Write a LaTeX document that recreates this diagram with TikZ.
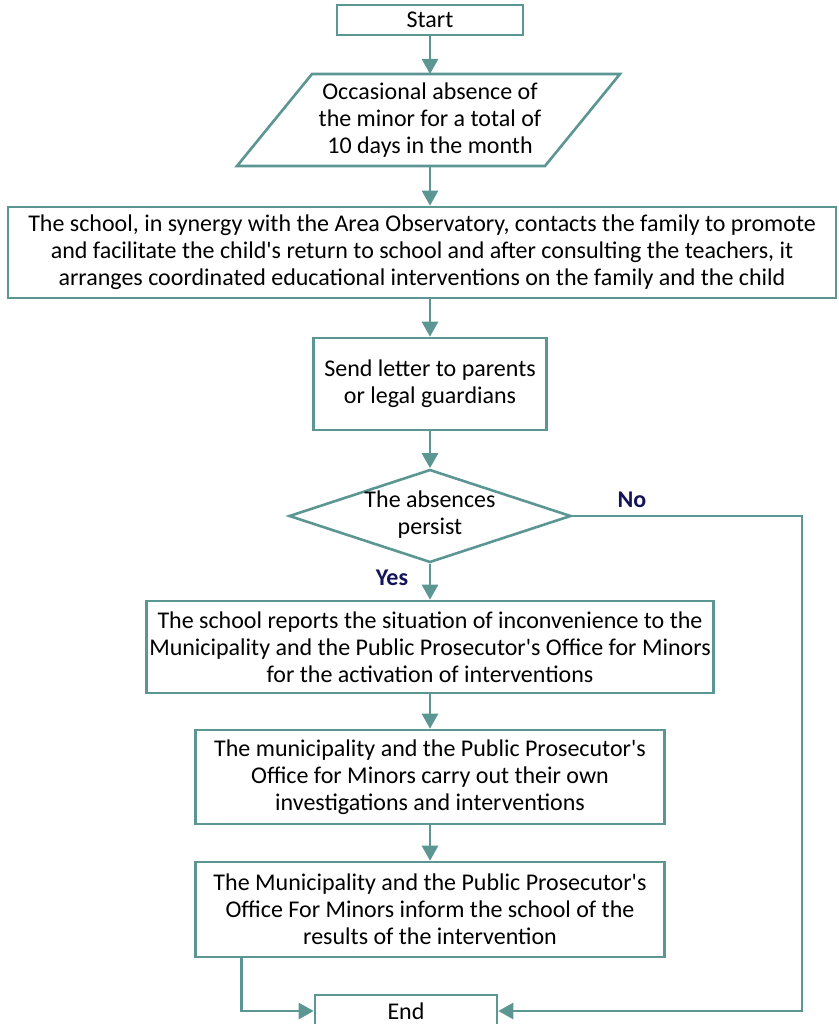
\documentclass[tikz,border=0pt]{standalone}
\usepackage{fontspec}
\setmainfont{Carlito}
\usetikzlibrary{arrows.meta,shapes.geometric}
\definecolor{edge}{HTML}{5B9693}
\definecolor{lab}{HTML}{14145A}
\newcommand{\qt}{\textquotesingle}
\begin{document}
\begin{tikzpicture}[x=1pt,y=-1pt,
  font=\fontsize{24}{27}\selectfont,
  box/.style={draw=edge, line width=2.6pt, fill=white, align=center, inner sep=0pt},
  plain/.style={align=center, inner sep=0pt},
  link/.style={draw=edge, line width=2.6pt, -{Triangle[length=15pt,width=16pt]}},
  answer/.style={text=lab, font=\fontsize{24}{27}\selectfont\bfseries, inner sep=0pt}]
\useasboundingbox (0,0) rectangle (838,1024);

% start
\node[box, minimum width=186, minimum height=30] (start) at (430,20) {Start};

% input: parallelogram outline with its text
\draw[edge, line width=2.6pt, fill=white, line join=miter]
  (312,74) -- (620,74) -- (545,166) -- (237,166) -- cycle;
\node[plain, minimum height=92] (absence) at (430,120)
  {Occasional absence of\\the minor for a total of\\10 days in the month};

% process steps
\node[box, minimum width=828, minimum height=91] (contact) at (422,252.5)
  {The school, in synergy with the Area Observatory, contacts the family to promote\\
   and facilitate the child\qt s return to school and after consulting the teachers, it\\
   arranges coordinated educational interventions on the family and the child};
\node[box, minimum width=233, minimum height=92] (letter) at (430,384)
  {Send letter to parents\\or legal guardians};

% decision
\node[draw=edge, line width=2.6pt, fill=white, shape=diamond, inner sep=0pt,
      minimum width=282, minimum height=93] (check) at (430,516) {};
\node[plain] (checktext) at (430,515) {The absences\\persist};

\node[box, minimum width=567, minimum height=92] (report) at (430,647)
  {The school reports the situation of inconvenience to the\\
   Municipality and the Public Prosecutor\qt s Office for Minors\\
   for the activation of interventions};
\node[box, minimum width=469, minimum height=94] (investigate) at (430,777)
  {The municipality and the Public Prosecutor\qt s\\
   Office for Minors carry out their own\\
   investigations and interventions};
\node[box, minimum width=469, minimum height=95] (inform) at (430,909.5)
  {The Municipality and the Public Prosecutor\qt s\\
   Office For Minors inform the school of the\\
   results of the intervention};

% end
\node[box, minimum width=182, minimum height=32] (end) at (406,1011) {End};

% branch labels
\node[answer] (yes) at (392,578) {Yes};
\node[answer] (no) at (632,500) {No};

% connectors
\coordinate (nobend) at (802,516);
\coordinate (tap) at ([xshift=47pt]inform.south west);

\draw[link] (start) -- (start |- 0,74);
\draw[link] (absence.south) -- (absence.south |- contact.north);
\draw[link] (contact.south -| letter.north) -- (letter.north);
\draw[link] (letter.south) -- (check.north);
\draw[link] (check.south) -- (report.north);
\draw[link] (report.south) -- (investigate.north);
\draw[link] (investigate.south) -- (inform.north);
\draw[link] (check.east) -- (nobend) |- (end.east);
\draw[link] (tap) |- (end.west);
\end{tikzpicture}
\end{document}
